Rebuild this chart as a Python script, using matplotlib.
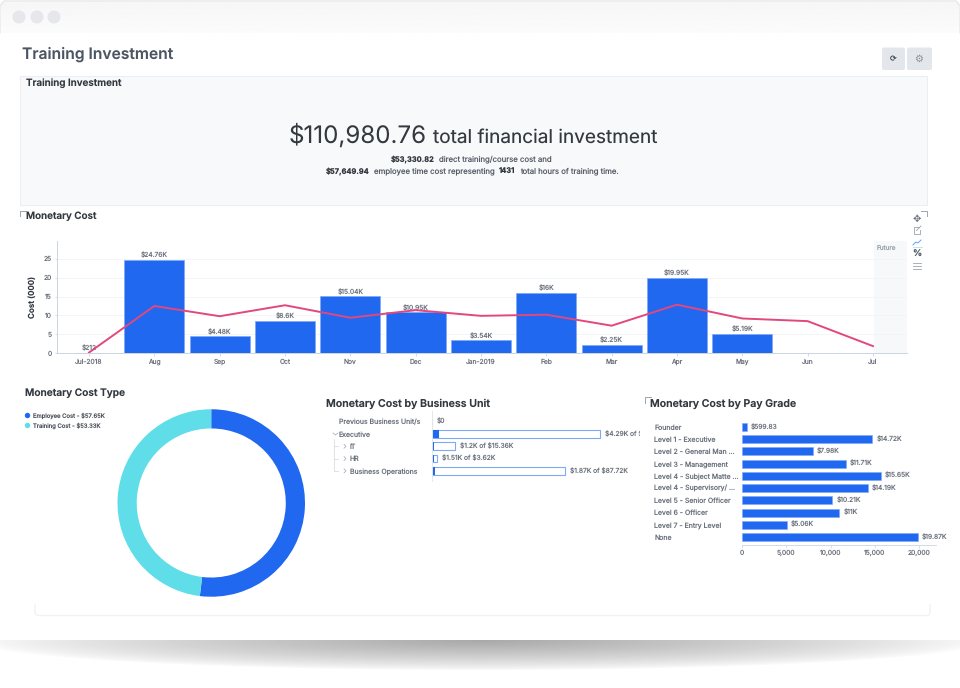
import numpy as np
import matplotlib
matplotlib.use('Agg')
import matplotlib.pyplot as plt
from matplotlib.patches import Rectangle, Circle, FancyBboxPatch

plt.rcParams['font.family'] = ['Inter', 'DejaVu Sans']
plt.rcParams['text.hinting'] = 'no_hinting'
plt.rcParams['text.hinting_factor'] = 1
plt.rcParams['text.parse_math'] = False

W, H = 960, 688
BLUE = '#2068f0'
EDGE = '#7fa8f5'
CYAN = '#5fdde8'
PINK = '#e2487e'
DARK = '#33393f'
GREY = '#6b727d'

# monetary cost per month
months = ['Jul-2018', 'Aug', 'Sep', 'Oct', 'Nov', 'Dec', 'Jan-2019', 'Feb', 'Mar', 'Apr', 'May', 'Jun', 'Jul']
cost = [0.21, 24.76, 4.48, 8.6, 15.04, 10.95, 3.54, 16, 2.25, 19.95, 5.19]
cost_labels = ['$212', '$24.76K', '$4.48K', '$8.6K', '$15.04K', '$10.95K', '$3.54K', '$16K', '$2.25K', '$19.95K', '$5.19K']
trend = [0.2, 12.5, 9.8, 12.7, 9.4, 11.4, 9.9, 10.2, 7.3, 12.85, 9.2, 8.5, 1.9]
cost_ticks = [0, 5, 10, 15, 20, 25]

# cost type donut
type_names = ['Employee Cost - $57.65K', 'Training Cost - $53.33K']
type_values = [57.65, 53.33]

# business unit bullets, in thousands
unit_names = ['Previous Business Unit/s', 'Executive', 'IT', 'HR', 'Business Operations']
unit_spent = [0, 4.29, 1.2, 1.51, 1.87]
unit_total = [0, 110.98, 15.36, 3.62, 87.72]
unit_labels = ['$0', '$4.29K of $110.98K', '$1.2K of $15.36K', '$1.51K of $3.62K', '$1.87K of $87.72K']
unit_indent = [0, 0, 1, 1, 1]

# pay grades
grades = ['Founder', 'Level 1 - Executive', 'Level 2 - General Man ...', 'Level 3 - Management',
          'Level 4 - Subject Matte ...', 'Level 4 - Supervisory/ ...', 'Level 5 - Senior Officer',
          'Level 6 - Officer', 'Level 7 - Entry Level', 'None']
grade_cost = [599.83, 14720, 7980, 11710, 15650, 14190, 10210, 11000, 5060, 19870]
grade_labels = ['$599.83', '$14.72K', '$7.98K', '$11.71K', '$15.65K', '$14.19K', '$10.21K', '$11K', '$5.06K', '$19.87K']
grade_ticks = [0, 5000, 10000, 15000, 20000]


def px_axes(l, t, r, b, **kw):
    return fig.add_axes([l / W, 1 - b / H, (r - l) / W, (b - t) / H], **kw)


fig = plt.figure(figsize=(W / 100, H / 100), dpi=100, facecolor='white')

# page furniture, in pixel coordinates
bg = fig.add_axes([0, 0, 1, 1])
bg.set_xlim(0, W)
bg.set_ylim(H, 0)
bg.axis('off')

# window title bar
grad = np.linspace(0.965, 0.985, 30).reshape(-1, 1)
bg.imshow(grad, extent=[1, 959, 33, 2], cmap='gray', vmin=0, vmax=1, aspect='auto', zorder=1)
bg.plot([0, 0, 4, 956, 960, 960], [33, 6, 1, 1, 6, 33], color='#e8e8e8', lw=1, zorder=2)
for cx in [19, 37, 54]:
    bg.add_patch(Circle((cx, 17), 6.5, fc='#e6e7ea', ec='none', zorder=3))

# shadow under the window
xx, yy = np.meshgrid(np.arange(W), np.arange(640, 680))
r = np.sqrt(((xx - 480) / 510) ** 2 + ((yy - 640) / 30) ** 2)
shadow = 1 - 0.34 * np.clip(1 - r, 0, 1) ** 0.75
bg.imshow(shadow, extent=[0, W, 680, 640], cmap='gray', vmin=0, vmax=1, aspect='auto', zorder=1)
bg.set_xlim(0, W)
bg.set_ylim(H, 0)

bg.text(22, 54.5, 'Training Investment', fontsize=11.25, fontweight='semibold', color='#4b5563', va='center')

# buttons
for bx, bw in [(882, 23), (907, 25)]:
    bg.add_patch(FancyBboxPatch((bx, 47.5), bw, 22.5, boxstyle='round,pad=0,rounding_size=2', fc='#e3e6ea', ec='none'))
bg.text(893, 59, '⟳', fontsize=6, color='#374151', ha='center', va='center', fontweight='bold', family='DejaVu Sans')
bg.text(918.5, 59, '⚙', fontsize=7.5, color='#8a9099', ha='center', va='center', family='DejaVu Sans')

# summary panel
bg.add_patch(Rectangle((20, 76), 907, 129, fc='#f8f9fb', ec='#eceef2', lw=0.8))
bg.text(26, 83, 'Training Investment', fontsize=7.1, fontweight='semibold', color=DARK, va='center')
bg.text(289, 136, '$110,980.76', fontsize=17.4, color=DARK, va='center')
bg.text(433, 137.5, 'total financial investment', fontsize=13.7, color=DARK, va='center')
bg.text(391, 158.7, '$53,330.82', fontsize=5.4, fontweight='bold', color=DARK, va='center')
bg.text(439, 158.7, 'direct training/course cost and', fontsize=5.6, color='#555c66', va='center')
bg.text(326, 170.7, '$57,649.94', fontsize=5.4, fontweight='bold', color=DARK, va='center')
bg.text(373.5, 170.7, 'employee time cost representing', fontsize=5.6, color='#555c66', va='center')
bg.text(498.7, 170.7, '1431', fontsize=5.4, fontweight='bold', color=DARK, va='center')
bg.text(520, 170.7, 'total hours of training time.', fontsize=5.6, color='#555c66', va='center')

# section headings and corner marks
bg.text(25.5, 216.5, 'Monetary Cost', fontsize=7.1, fontweight='semibold', color=DARK, va='center')
bg.text(25, 393.5, 'Monetary Cost Type', fontsize=7.3, fontweight='semibold', color=DARK, va='center')
bg.text(326, 404, 'Monetary Cost by Business Unit', fontsize=7.65, fontweight='semibold', color=DARK, va='center')
bg.text(650, 404, 'Monetary Cost by Pay Grade', fontsize=7.6, fontweight='semibold', color=DARK, va='center')
mark = dict(color='#9ca3af', lw=0.7)
bg.plot([20, 20, 26], [216, 210.5, 210.5], **mark)
bg.plot([921, 927, 927], [210.5, 210.5, 216], **mark)
bg.plot([645, 645, 651], [403, 397, 397], **mark)

# toolbar beside the chart
bg.text(917, 219, '✥', fontsize=7, color='#6b7280', ha='center', va='center', family='DejaVu Sans')
bg.plot([919, 913.5, 913.5, 920, 920], [227, 227, 234, 234, 230], color='#9ca3af', lw=0.6)
bg.plot([916.5, 921], [230.5, 226], color='#9ca3af', lw=0.6)
bg.plot([913, 916, 918, 921], [245, 242, 243, 240], color='#60a5fa', lw=0.7)
bg.plot([913, 922], [246.5, 246.5], color='#bcdcf5', lw=0.6)
bg.text(917, 254, '%', fontsize=6.5, color='#4b5563', ha='center', va='center', fontweight='bold')
for ly in [262.5, 265.5, 268.5]:
    bg.plot([913, 921], [ly, ly], color='#9ca3af', lw=0.6)

# empty panel at the bottom
bg.plot([35, 35, 37, 928, 930, 930], [605, 613, 615.5, 615.5, 613, 605], color='#f1f2f4', lw=1)

# monthly chart
ax = px_axes(57, 240.7, 907, 353.3, facecolor='none')
x = np.arange(len(months))
step = 65.33
ax.set_xlim((57 - 89) / step, (907 - 89) / step)
ax.set_ylim(0, 112.6 / 3.784)
ax.axvspan((874 - 89) / step, (907 - 89) / step, color='#f7f8fa', lw=0, zorder=0)
ax.text((877 - 89) / step, 27.75, 'Future', fontsize=4.6, color='#9ca3af', va='center')
bars = ax.bar(x[:len(cost)], cost, width=60 / step, color=BLUE, edgecolor=EDGE, linewidth=0.5, zorder=2)
ax.bar_label(bars, labels=cost_labels, padding=0.5, fontsize=4.8, color=GREY, zorder=3)
ax.plot(x, trend, color=PINK, lw=1.4, zorder=4)
ax.set_xticks(x, months)
ax.set_yticks(cost_ticks)
ax.set_ylabel('Cost (000)', fontsize=5.8, fontweight='semibold', color=DARK, labelpad=5)
ax.grid(axis='y', color='#f3f4f6', lw=0.6)
ax.set_axisbelow(True)
ax.tick_params(labelsize=4.8, labelcolor=GREY, color='#cbd5e1', length=1.8, width=0.6, pad=1.8)
for side in ['top', 'right']:
    ax.spines[side].set_visible(False)
for side in ['left', 'bottom']:
    ax.spines[side].set_color('#cbd5e1')
    ax.spines[side].set_linewidth(0.7)

# donut
ax2 = px_axes(117.5, 409, 305, 597)
ax2.pie(type_values, colors=[BLUE, CYAN], startangle=90, counterclock=False, radius=1,
        wedgeprops=dict(width=0.205, linewidth=0))
ax2.set_xlim(-1, 1)
ax2.set_ylim(-1, 1)
for name, col, ly in zip(type_names, [BLUE, CYAN], [415.5, 425.5]):
    bg.add_patch(Circle((27.5, ly), 2.7, fc=col, ec='none'))
    bg.text(33, ly + 0.5, name, fontsize=4.25, color='#4b5159', va='center')

# business unit bullets
row = 12.3
ax3 = px_axes(432, 411, 640, 481, facecolor='none')
ax3.set_xlim(0, 208 / 1.516)
ax3.set_ylim((481 - 421.7) / row, (411 - 421.7) / row)
y3 = np.arange(len(unit_names))
ax3.barh(y3, unit_total, height=0.62, color='white', edgecolor=EDGE, linewidth=0.8)
ax3.barh(y3, unit_spent, height=0.62, color=BLUE, linewidth=0)
for i, lab in enumerate(unit_labels):
    ax3.annotate(lab, (unit_total[i], i), xytext=(3.5, 0), textcoords='offset points',
                 fontsize=4.8, color=GREY, va='center', annotation_clip=False, clip_on=True)
ax3.set_xticks([])
ax3.set_yticks([])
for side in ['top', 'right', 'bottom']:
    ax3.spines[side].set_visible(False)
ax3.spines['left'].set_color('#e5e7eb')
ax3.spines['left'].set_linewidth(0.7)
for i, name in enumerate(unit_names):
    ly = 421.7 + row * i
    bg.text(339 + 11 * unit_indent[i], ly + 0.5, name, fontsize=5, color=GREY, va='center')
    if i > 1:
        bg.plot([334, 338], [ly, ly], color='#d1d5db', lw=0.5)
        bg.plot([344, 346, 344], [ly - 2, ly, ly + 2], color='#9ca3af', lw=0.5)
bg.plot([333, 335.5, 338], [433, 435, 433], color='#9ca3af', lw=0.5)
bg.plot([334, 334], [439, 471], color='#d1d5db', lw=0.5)

# pay grades
ax4 = px_axes(741.7, 420.5, 936, 545, facecolor='none')
ax4.set_xlim(0, 194.3 / 0.00888)
ax4.set_ylim((545 - 427) / 12.22, -0.53)
y4 = np.arange(len(grades))
bars4 = ax4.barh(y4, grade_cost, height=0.66, color=BLUE, edgecolor=EDGE, linewidth=0.4)
ax4.bar_label(bars4, labels=grade_labels, padding=3, fontsize=4.8, color=GREY)
ax4.set_yticks(y4, grades)
ax4.set_xticks(grade_ticks, [f'{t:,}' for t in grade_ticks])
ax4.tick_params(axis='y', length=0, labelsize=5, labelcolor=GREY, pad=87.5 * 0.72, labelleft=True)
ax4.tick_params(axis='x', length=2, width=0.5, color='#cbd5e1', labelsize=4.8, labelcolor=GREY, pad=1.5)
for lab in ax4.get_yticklabels():
    lab.set_ha('left')
for side in ['top', 'right', 'left']:
    ax4.spines[side].set_visible(False)
ax4.spines['bottom'].set_color('#cbd5e1')
ax4.spines['bottom'].set_linewidth(0.6)

fig.savefig('out.png', dpi=100)
